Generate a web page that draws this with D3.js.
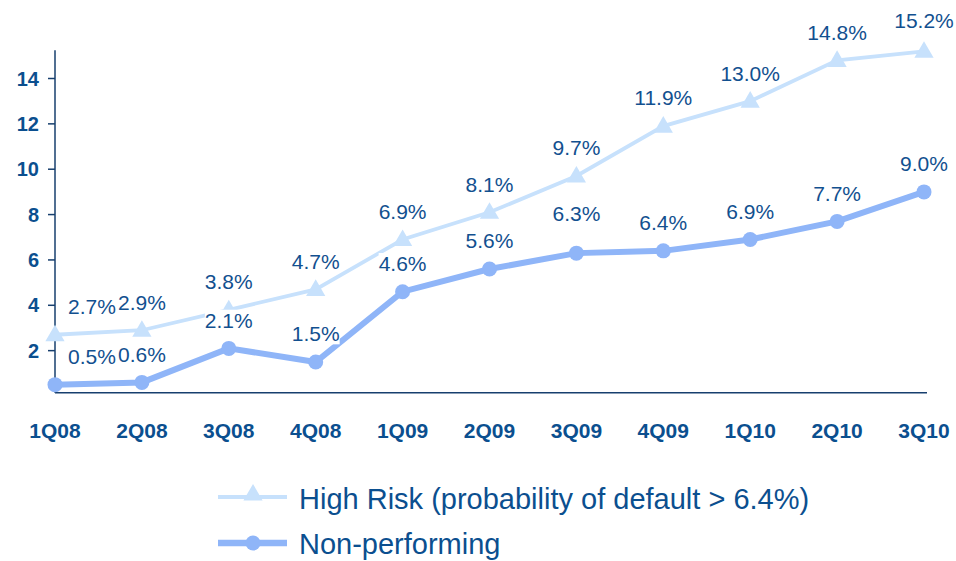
<!DOCTYPE html>
<html>
<head>
<meta charset="utf-8">
<script src="https://cdn.jsdelivr.net/npm/d3@7"></script>
<style>
  body { margin: 0; background: #fff; }
  svg { font-family: "Liberation Sans", Arial, sans-serif; }
  .tick-label { fill: #0b4f8f; font-weight: bold; }
  .val-label { fill: #12508f; font-size: 21px; }
  .legend-label { fill: #0b4f8f; font-size: 29px; }
</style>
</head>
<body>
<div id="chart"></div>
<script>
// quarters and series values (%)
var quarters = ["1Q08","2Q08","3Q08","4Q08","1Q09","2Q09","3Q09","4Q09","1Q10","2Q10","3Q10"];
var highRisk = [2.7, 2.9, 3.8, 4.7, 6.9, 8.1, 9.7, 11.9, 13.0, 14.8, 15.2];
var nonPerf  = [0.5, 0.6, 2.1, 1.5, 4.6, 5.6, 6.3, 6.4, 6.9, 7.7, 9.0];
var yTicks = [2, 4, 6, 8, 10, 12, 14];

var width = 956, height = 561;
var hrColor = "#c7e1fc", npColor = "#8fb5f8", axisColor = "#173f6e";

var svg = d3.select("#chart").append("svg")
    .attr("width", width)
    .attr("height", height);

var x = d3.scalePoint()
    .domain(quarters)
    .range([55, 924]);

var y = d3.scaleLinear()
    .domain([0, 14])
    .range([396, 78.5]);

// axes lines
svg.append("line")
    .attr("x1", 55).attr("x2", 55)
    .attr("y1", y(15.25)).attr("y2", y(0.14))
    .attr("stroke", axisColor).attr("stroke-width", 1.5);
svg.append("line")
    .attr("x1", 55).attr("x2", 927)
    .attr("y1", y(0.14)).attr("y2", y(0.14))
    .attr("stroke", axisColor).attr("stroke-width", 1.5);

// y ticks
yTicks.forEach(function(t){
  svg.append("line")
      .attr("x1", 48).attr("x2", 55)
      .attr("y1", y(t)).attr("y2", y(t))
      .attr("stroke", axisColor).attr("stroke-width", 1.5);
  svg.append("text")
      .attr("class", "tick-label")
      .style("font-size", "20px")
      .attr("x", 39).attr("y", y(t))
      .attr("dy", "0.35em")
      .attr("text-anchor", "end")
      .text(t);
});

// x tick labels
svg.selectAll(".xlab")
    .data(quarters)
  .enter().append("text")
    .attr("class", "tick-label")
    .style("font-size", "21px")
    .attr("x", function(d){ return x(d); })
    .attr("y", 438)
    .attr("text-anchor", "middle")
    .text(function(d){ return d; });

var line = d3.line()
    .x(function(d, i){ return x(quarters[i]); })
    .y(function(d){ return y(d); });

// high risk line + triangles
svg.append("path")
    .datum(highRisk)
    .attr("d", line)
    .attr("fill", "none")
    .attr("stroke", hrColor)
    .attr("stroke-width", 3.8);

var tri = d3.symbol().type(d3.symbolTriangle).size(160);
svg.selectAll(".tri")
    .data(highRisk)
  .enter().append("path")
    .attr("d", tri)
    .attr("fill", hrColor)
    .attr("transform", function(d, i){ return "translate(" + x(quarters[i]) + "," + (y(d) + 1) + ")"; });

// non-performing line + circles
svg.append("path")
    .datum(nonPerf)
    .attr("d", line)
    .attr("fill", "none")
    .attr("stroke", npColor)
    .attr("stroke-width", 6);

svg.selectAll(".dot")
    .data(nonPerf)
  .enter().append("circle")
    .attr("cx", function(d, i){ return x(quarters[i]); })
    .attr("cy", function(d){ return y(d); })
    .attr("r", 7.5)
    .attr("fill", npColor);

// value labels with white boxes
function labels(values, extraUp){
  values.forEach(function(v, i){
    var cx = x(quarters[i]) + (i === 0 ? 37 : 0);
    var cy = y(v) - 28 - (extraUp[i] || 0);
    var g = svg.append("g");
    var t = g.append("text")
        .attr("class", "val-label")
        .attr("x", cx).attr("y", cy)
        .attr("dy", "0.35em")
        .attr("text-anchor", "middle")
        .text(v.toFixed(1) + "%");
    var bb = t.node().getBBox();
    g.insert("rect", "text")
        .attr("x", bb.x).attr("y", bb.y + 1)
        .attr("width", bb.width).attr("height", bb.height - 2)
        .attr("fill", "#fff");
  });
}
labels(highRisk, {10: 3});
labels(nonPerf, {6: 11});

// legend
var legend = [
  {label: "High Risk (probability of default > 6.4%)", color: hrColor, w: 3.8, mark: "tri", y: 497, ty: 499},
  {label: "Non-performing", color: npColor, w: 6.5, mark: "dot", y: 543, ty: 544}
];
legend.forEach(function(d){
  svg.append("line")
      .attr("x1", 218).attr("x2", 287)
      .attr("y1", d.y).attr("y2", d.y)
      .attr("stroke", d.color).attr("stroke-width", d.w);
  if (d.mark == "tri") {
    svg.append("path")
        .attr("d", tri)
        .attr("fill", d.color)
        .attr("transform", "translate(253," + (d.y - 2) + ")");
  } else {
    svg.append("circle")
        .attr("cx", 253).attr("cy", d.y)
        .attr("r", 7.5)
        .attr("fill", d.color);
  }
  svg.append("text")
      .attr("class", "legend-label")
      .attr("x", 299).attr("y", d.ty)
      .attr("dy", "0.35em")
      .text(d.label);
});
</script>
</body>
</html>
